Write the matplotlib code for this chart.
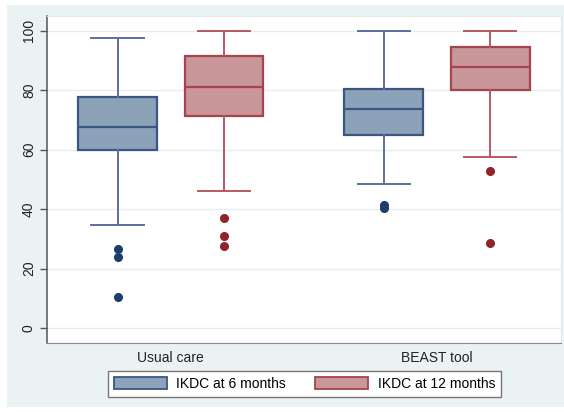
import matplotlib
matplotlib.use("Agg")
import matplotlib.pyplot as plt
from matplotlib.patches import Patch, Rectangle

plt.rcParams['font.family'] = ['Liberation Sans', 'DejaVu Sans']

groups = ["Usual care", "BEAST tool"]
series = ["IKDC at 6 months", "IKDC at 12 months"]

# box summaries, order: usual care 6m, usual care 12m, BEAST 6m, BEAST 12m
q1 = [60.0, 71.4, 65.1, 80.1]
med = [67.8, 81.0, 73.6, 88.0]
q3 = [77.8, 91.6, 80.4, 94.6]
whislo = [34.7, 46.0, 48.4, 57.6]
whishi = [97.6, 100.0, 100.0, 100.0]
fliers = [[26.6, 24.0, 10.4], [37.0, 31.0, 27.6], [41.5, 40.3], [52.9, 28.7]]

yticks = [0, 20, 40, 60, 80, 100]

blue_fill, blue_edge, blue_wh, blue_pt = "#8CA2B8", "#3A5683", "#5E6F9C", "#1B3E6C"
red_fill, red_edge, red_wh, red_pt = "#C9979A", "#A5444C", "#B8585F", "#90232C"

fig = plt.figure(figsize=(5.64, 4.12), dpi=100)
fig.patch.set_facecolor("white")
bg = Rectangle((7 / 564, 5 / 412), 557 / 564, 402 / 412,
               transform=fig.transFigure, facecolor="#EAF2F3",
               edgecolor="none", zorder=-10)
fig.add_artist(bg)

ax = fig.add_axes([47 / 564, 69 / 412, 514 / 564, 327 / 412])
ax.set_facecolor("white")

positions = [0, 1, 2.5, 3.5]
stats = []
for i in range(4):
    stats.append(dict(q1=q1[i], med=med[i], q3=q3[i], whislo=whislo[i],
                      whishi=whishi[i], fliers=fliers[i]))

for i, st in enumerate(stats):
    is_blue = i % 2 == 0
    fill = blue_fill if is_blue else red_fill
    edge = blue_edge if is_blue else red_edge
    wh = blue_wh if is_blue else red_wh
    pt = blue_pt if is_blue else red_pt
    ax.bxp([st], positions=[positions[i]], widths=0.74, patch_artist=True,
           boxprops=dict(facecolor=fill, edgecolor=edge, linewidth=1.6),
           medianprops=dict(color=edge, linewidth=1.6),
           whiskerprops=dict(color=wh, linewidth=1.4),
           capprops=dict(color=wh, linewidth=1.4),
           capwidths=0.49,
           flierprops=dict(marker="o", markerfacecolor=pt, markeredgecolor=pt,
                           markersize=5.5))

ax.set_xlim(-0.662, 4.164)
ax.set_ylim(-5.05, 105)
ax.set_yticks(yticks)
ax.set_yticklabels([str(t) for t in yticks], rotation=90, va="center",
                   fontsize=10, color="#222222")
ax.set_xticks([0.5, 3.0])
ax.set_xticklabels(groups, fontsize=10, color="#222222")
ax.tick_params(axis="x", length=0, pad=6)
ax.tick_params(axis="y", length=5, width=1, color="#555555", pad=3)
ax.yaxis.grid(True, color="#E3EEF0", linewidth=1)
ax.set_axisbelow(True)

for side in ["top", "right"]:
    ax.spines[side].set_color("#E3EAEC")
ax.spines["left"].set_color("#555555")
ax.spines["bottom"].set_color("#888888")
ax.spines["left"].set_linewidth(1.1)

handles = [Patch(facecolor=blue_fill, edgecolor=blue_edge, linewidth=1.3),
           Patch(facecolor=red_fill, edgecolor=red_edge, linewidth=1.3)]
leg = fig.legend(handles, series, loc="center", bbox_to_anchor=(304.5 / 564, 28 / 412),
                 ncol=2, fontsize=10, handlelength=3.8, handleheight=0.95,
                 handletextpad=0.7, columnspacing=2.1, borderpad=0.4,
                 fancybox=False, framealpha=1, edgecolor="#777777")
leg.get_frame().set_linewidth(1)

fig.savefig("out.png", dpi=100)
